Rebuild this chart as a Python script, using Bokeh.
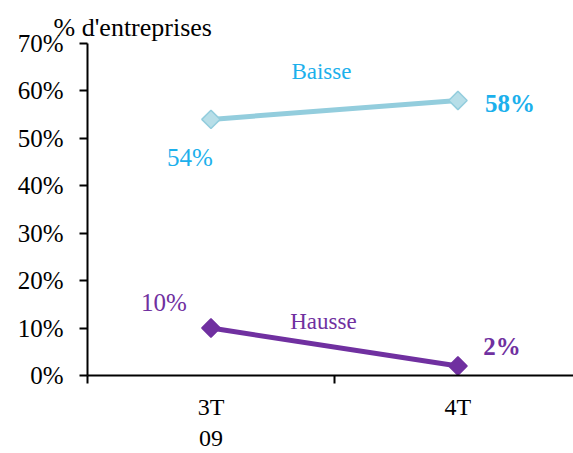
import math
from bokeh.plotting import figure
from bokeh.models import FixedTicker, NumeralTickFormatter, Range1d, ColumnDataSource, LinearAxis
from bokeh.core.properties import value
from bokeh.embed import file_html
from bokeh.resources import INLINE

# ---- data ----
categories = ["3T\n09", "4T"]
series_names = ["Baisse", "Hausse"]
baisse = [0.54, 0.58]
hausse = [0.10, 0.02]
y_ticks = [0.0, 0.1, 0.2, 0.3, 0.4, 0.5, 0.6, 0.7]
y_title = "% d'entreprises"

FONT = "Liberation Serif"
BLUE_LINE = "#93CDDD"
BLUE_FILL = "#B7DEE8"
BLUE_TEXT = "#1CB0EC"
PURPLE = "#7030A0"

xs = [i + 0.5 for i in range(len(categories))]

p = figure(width=573, height=453, output_backend="svg", toolbar_location=None,
           x_range=Range1d(0, 1.968), y_range=Range1d(0, 0.7),
           x_axis_type=None, y_axis_type=None,
           min_border_left=87, min_border_right=0, min_border_top=43, min_border_bottom=78)
p.outline_line_color = None
p.background_fill_color = "white"
p.border_fill_color = "white"

# title above the y axis
p.title.text = y_title
p.title.align = "left"
p.title.offset = -34
p.title.standoff = 3
p.title.text_font = FONT
p.title.text_font_size = "26px"
p.title.text_font_style = "normal"
p.title.text_color = "black"

# y axis
yax = LinearAxis(ticker=FixedTicker(ticks=y_ticks), formatter=NumeralTickFormatter(format="0%"))
yax.major_tick_in = 0
yax.major_tick_out = 8
yax.major_tick_line_width = 2
yax.axis_line_width = 2
yax.major_label_text_font = FONT
yax.major_label_text_font_size = "25px"
yax.major_label_text_color = "black"
yax.major_label_standoff = 16
p.add_layout(yax, "left")

# x axis
xax = LinearAxis(ticker=FixedTicker(ticks=xs, minor_ticks=[0, 1, 2]))
xax.major_label_overrides = {xv: c for xv, c in zip(xs, categories)}
xax.major_tick_in = 0
xax.major_tick_out = 0
xax.minor_tick_in = 0
xax.minor_tick_out = 8
xax.minor_tick_line_width = 2
xax.axis_line_width = 2
xax.major_label_text_font = FONT
xax.major_label_text_font_size = "24px"
xax.major_label_text_color = "black"
xax.major_label_standoff = 10
p.add_layout(xax, "below")

# series
for vals, lc, fc in [(baisse, BLUE_LINE, BLUE_FILL), (hausse, PURPLE, PURPLE)]:
    p.line(xs, vals, line_color=lc, line_width=5)
    p.scatter(xs, vals, marker="square", angle=math.pi / 4, size=13,
              fill_color=fc, line_color=lc, line_width=1.5)

# value labels
lab = ColumnDataSource(dict(
    x=xs + xs,
    y=baisse + hausse,
    text=[f"{v:.0%}" for v in baisse + hausse],
    dx=[-21, 52, -47, 44],
    dy=[38, 3, -26, -20],
    color=[BLUE_TEXT, BLUE_TEXT, PURPLE, PURPLE],
    style=["normal", "bold", "normal", "bold"],
))
p.text(x="x", y="y", text="text", x_offset="dx", y_offset="dy", text_color="color",
       text_font_style="style", text_font=value(FONT), text_font_size="25px",
       text_align="center", text_baseline="middle", source=lab)

# series name labels at middle of each line
mid_x = sum(xs) / 2
names = ColumnDataSource(dict(
    x=[mid_x, mid_x],
    y=[sum(baisse) / 2, sum(hausse) / 2],
    text=series_names,
    dx=[-13, -11],
    dy=[-38, -26],
    color=[BLUE_TEXT, PURPLE],
))
p.text(x="x", y="y", text="text", x_offset="dx", y_offset="dy", text_color="color",
       text_font=value(FONT), text_font_size="23px",
       text_align="center", text_baseline="middle", source=names)

open("out.html", "w").write(file_html(p, INLINE))
